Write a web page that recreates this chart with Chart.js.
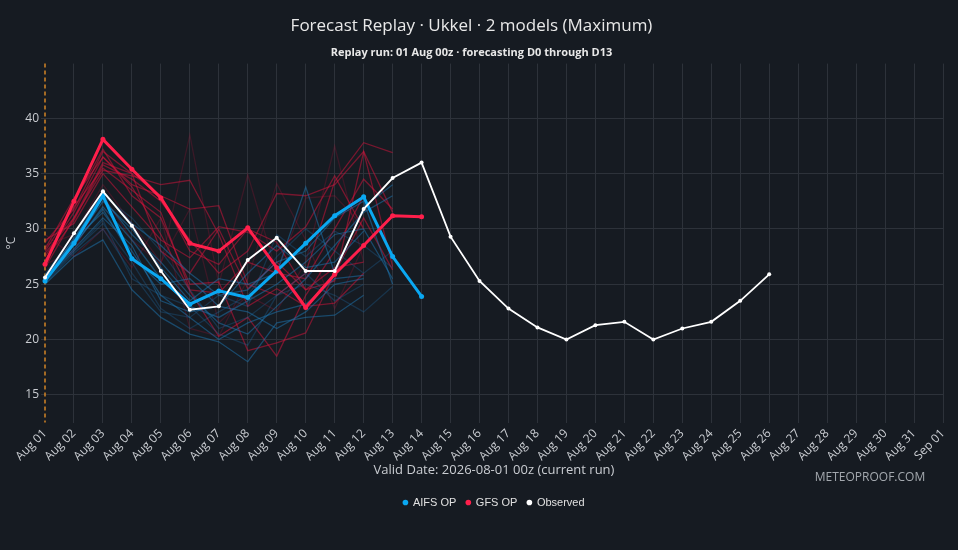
<!DOCTYPE html>
<html>
<head>
<meta charset="utf-8">
<script src="https://cdn.jsdelivr.net/npm/chart.js@4.4.1/dist/chart.umd.min.js"></script>
<style>
  html, body { margin: 0; padding: 0; background: #161b22; }
  #wrap { width: 958px; height: 550px; }
</style>
</head>
<body>
<div id="wrap"><canvas id="myChart" width="958" height="550"></canvas></div>
<script>
// x categories, Aug 01 .. Sep 01
const dayLabels = ['Aug 01','Aug 02','Aug 03','Aug 04','Aug 05','Aug 06','Aug 07','Aug 08',
    'Aug 09','Aug 10','Aug 11','Aug 12','Aug 13','Aug 14','Aug 15','Aug 16','Aug 17','Aug 18',
    'Aug 19','Aug 20','Aug 21','Aug 22','Aug 23','Aug 24','Aug 25','Aug 26','Aug 27','Aug 28',
    'Aug 29','Aug 30','Aug 31','Sep 01'];

// operational runs (D0..D13)
const aifsOp = [25.3, 28.7, 33.0, 27.3, 25.5, 23.2, 24.4, 23.8, 26.2, 28.7, 31.2, 32.9, 27.5, 23.9];
const gfsOp  = [26.8, 32.5, 38.1, 35.4, 32.8, 28.7, 28.0, 30.1, 26.5, 22.9, 25.9, 28.5, 31.2, 31.1];

// observed maximum
const observed = [25.6, 29.6, 33.4, 30.3, 26.2, 22.7, 23.0, 27.2, 29.2, 26.2, 26.2, 31.8, 34.6,
    36.0, 29.3, 25.3, 22.8, 21.1, 20.0, 21.3, 21.6, 20.0, 21.0, 21.6, 23.5, 25.9];

// GFS ensemble members
const gfsEns1  = [27.5, 31.5, 36.5, 34.0, 33.0, 31.8, 32.1, 25.0, 24.0, 26.0, 34.3, 37.8, 36.9];
const gfsEns2  = [28.0, 32.0, 35.5, 33.5, 31.5, 24.5, 24.2, 27.0, 26.0, 25.5, 30.0, 34.5, 31.8];
const gfsEns3  = [26.5, 31.0, 36.0, 35.0, 33.0, 28.0, 26.8, 30.0, 28.8, 24.5, 25.3, 37.0, 26.6];
const gfsEns4  = [29.0, 30.5, 35.0, 32.0, 29.0, 27.4, 30.2, 29.7, 28.0, 30.2, 34.8, 30.0];
const gfsEns5  = [27.0, 32.5, 37.2, 33.0, 31.0, 25.0, 25.2, 19.0, 19.7, 20.6, 26.0, 31.0, 26.3];
const gfsEns6  = [28.5, 29.5, 34.0, 30.5, 27.0, 31.8, 21.5, 24.0, 22.6, 27.0, 37.5, 27.0];
const gfsEns7  = [27.8, 31.0, 35.3, 34.8, 34.0, 34.4, 29.5, 23.0, 24.6, 23.0, 23.3, 26.0];
const gfsEns8  = [26.8, 28.0, 33.0, 29.0, 26.8, 38.5, 25.0, 34.9, 26.0, 32.8, 33.0, 30.2];
const gfsEns9  = [29.5, 27.5, 30.0, 26.5, 31.0, 21.0, 20.3, 25.5, 34.1, 29.0, 22.8, 28.5];
const gfsEns10 = [28.2, 32.8, 36.5, 33.8, 29.5, 24.4, 20.3, 22.0, 18.5, 24.0, 28.0, 33.0];
const gfsEns11 = [27.2, 30.8, 35.8, 34.5, 32.5, 29.0, 26.0, 28.0, 33.2, 33.0, 34.0, 37.0, 31.5];
const gfsEns12 = [28.8, 31.8, 37.0, 35.0, 28.0, 26.0, 30.0, 24.6, 27.0, 24.5, 26.5, 27.0];

// AIFS ensemble members
const aifsEns1  = [25.4, 28.5, 32.0, 29.0, 25.5, 23.0, 22.0, 23.5, 25.0, 27.0, 29.5, 30.0, 25.5];
const aifsEns2  = [25.8, 29.0, 31.5, 28.0, 24.0, 22.0, 20.0, 21.5, 22.5, 23.2, 25.5, 25.8];
const aifsEns3  = [25.2, 28.0, 30.5, 27.0, 22.8, 21.0, 22.5, 24.0, 27.5, 30.0, 28.0, 26.0, 28.0];
const aifsEns4  = [25.6, 28.8, 32.5, 30.0, 26.5, 23.5, 25.5, 25.0, 26.0, 33.8, 26.0, 32.0, 34.0];
const aifsEns5  = [25.0, 27.5, 29.0, 24.5, 22.0, 20.5, 19.8, 18.0, 21.5, 22.0, 22.2, 24.0];
const aifsEns6  = [25.9, 29.5, 33.0, 31.0, 28.0, 24.5, 21.0, 22.0, 24.0, 25.0, 24.0, 22.5, 24.8];
const aifsEns7  = [25.5, 28.2, 31.0, 28.5, 23.5, 22.5, 23.0, 26.0, 28.5, 26.5, 27.0, 29.8];
const aifsEns8  = [25.3, 29.2, 32.8, 29.5, 27.0, 24.0, 21.5, 20.5, 23.0, 25.5, 28.5, 31.5, 33.0];
const aifsEns9  = [25.1, 27.8, 30.0, 26.0, 22.5, 22.0, 24.0, 23.0, 29.5, 27.5, 29.8, 28.5, 26.5];
const aifsEns10 = [25.7, 28.6, 31.8, 27.5, 25.0, 25.5, 23.0, 22.5, 21.0, 22.5, 25.0, 25.5];
const aifsEns11 = [25.2, 29.0, 33.3, 30.5, 28.5, 26.0, 24.0, 24.5, 27.0, 28.0, 31.0, 32.5, 25.0];
const aifsEns12 = [25.5, 28.0, 30.8, 25.5, 24.0, 23.0, 20.5, 19.5, 24.0, 26.0, 23.5, 25.0];

const gfsMembers = [gfsEns1, gfsEns2, gfsEns3, gfsEns4, gfsEns5, gfsEns6, gfsEns7, gfsEns8,
    gfsEns9, gfsEns10, gfsEns11, gfsEns12];
const aifsMembers = [aifsEns1, aifsEns2, aifsEns3, aifsEns4, aifsEns5, aifsEns6, aifsEns7, aifsEns8,
    aifsEns9, aifsEns10, aifsEns11, aifsEns12];

// which members look washed out in the picture
const gfsFaint = [false, false, false, false, false, true, false, true, true, false, false, false];
const aifsFaint = [false, false, true, false, false, true, false, false, true, false, false, true];

const BLUE = '#0aa8f2';
const RED = '#ff1f4b';
const GRID = '#2d323a';
const TEXT = '#c9ccd1';

let datasets = [
    { label: 'AIFS OP', data: aifsOp, borderColor: BLUE, backgroundColor: BLUE, pointBackgroundColor: BLUE,
      borderWidth: 3, pointRadius: 2.5, pointBorderWidth: 0, order: 2 },
    { label: 'GFS OP', data: gfsOp, borderColor: RED, backgroundColor: RED, pointBackgroundColor: RED,
      borderWidth: 3, pointRadius: 2.5, pointBorderWidth: 0, order: 1 },
    { label: 'Observed', data: observed, borderColor: '#ffffff', backgroundColor: '#ffffff', pointBackgroundColor: '#ffffff',
      borderWidth: 1.8, pointRadius: 2, pointBorderWidth: 0, order: 0 }
];

for (let i = 0; i < gfsMembers.length; i += 1)
{
    datasets.push({ label: 'GFS ens ' + (i + 1), data: gfsMembers[i],
        borderColor: gfsFaint[i] ? 'rgba(190,20,60,0.22)' : 'rgba(215,20,60,0.5)',
        borderWidth: 1.3, pointRadius: 0, order: 4 });
}
for (let i = 0; i < aifsMembers.length; i += 1)
{
    datasets.push({ label: 'AIFS ens ' + (i + 1), data: aifsMembers[i],
        borderColor: aifsFaint[i] ? 'rgba(30,110,170,0.3)' : 'rgba(30,120,180,0.5)',
        borderWidth: 1.3, pointRadius: 0, order: 3 });
}

const bgPlugin = {
    id: 'bg',
    beforeDraw(chart) {
        const ctx = chart.ctx;
        ctx.save();
        ctx.fillStyle = '#161b22';
        ctx.fillRect(0, 0, chart.width, chart.height);
        ctx.restore();
    },
    beforeDatasetsDraw(chart) {
        // dashed marker for the run start (Aug 01)
        const ctx = chart.ctx;
        const x = chart.scales.x.getPixelForValue(0);
        ctx.save();
        ctx.strokeStyle = '#e08c25';
        ctx.lineWidth = 1.4;
        ctx.setLineDash([4, 3]);
        ctx.beginPath();
        ctx.moveTo(x, chart.chartArea.top);
        ctx.lineTo(x, chart.chartArea.bottom);
        ctx.stroke();
        ctx.restore();
    },
    afterDraw(chart) {
        const ctx = chart.ctx;
        ctx.save();
        ctx.font = '12px "Open Sans"';
        ctx.fillStyle = '#a3a8ae';
        ctx.textAlign = 'center';
        ctx.textBaseline = 'middle';
        ctx.fillText('METEOPROOF.COM', 870, 478);
        ctx.restore();
    }
};

const ctx = document.getElementById('myChart').getContext('2d');
const myChart = new Chart(ctx, {
    type: 'line',
    data: { labels: dayLabels, datasets: datasets },
    plugins: [bgPlugin],
    options: {
        responsive: false,
        animation: false,
        spanGaps: false,
        layout: { padding: { left: 0, right: 15, top: 0, bottom: 32 } },
        font: { family: '"Open Sans", sans-serif' },
        plugins: {
            title: {
                display: true,
                text: 'Forecast Replay · Ukkel · 2 models (Maximum)',
                color: '#e8e8e8',
                font: { family: '"Open Sans"', size: 17, weight: 'normal' },
                padding: { top: 16, bottom: 10 }
            },
            subtitle: {
                display: true,
                text: 'Replay run: 01 Aug 00z · forecasting D0 through D13',
                color: '#e8e8e8',
                font: { family: '"Open Sans"', size: 11, weight: 'bold' },
                padding: { top: 0, bottom: 4 }
            },
            legend: {
                position: 'bottom',
                fullSize: false,
                labels: {
                    color: '#e0e0e0',
                    font: { family: '"Liberation Sans", Arial', size: 11 },
                    usePointStyle: true,
                    pointStyle: 'circle',
                    boxWidth: 4,
                    boxHeight: 4,
                    padding: 10,
                    filter: (item) => item.datasetIndex < 3,
                    sort: (a, b) => a.datasetIndex - b.datasetIndex
                }
            },
            tooltip: { enabled: false }
        },
        scales: {
            x: {
                grid: { color: (c) => c.index === 0 ? 'rgba(0,0,0,0)' : GRID, drawTicks: false },
                border: { display: false },
                ticks: { color: TEXT, font: { size: 12 }, minRotation: 45, maxRotation: 45, autoSkip: false, padding: 4 },
                title: { display: true, text: 'Valid Date: 2026-08-01 00z (current run)', color: TEXT,
                         font: { size: 13 }, padding: { top: 0, bottom: 9 } },
                afterFit: (scale) => { scale.height = 64.5; }
            },
            y: {
                min: 12.5,
                max: 44.95,
                grid: { color: GRID, tickLength: 4 },
                border: { display: false },
                ticks: { stepSize: 5, includeBounds: false, color: TEXT, font: { size: 12 }, padding: 2 },
                title: { display: true, text: '°C', color: TEXT, font: { size: 12 }, padding: { top: 4, bottom: 0 } },
                afterFit: (scale) => { scale.width = 45; }
            }
        }
    }
});
</script>
</body>
</html>
